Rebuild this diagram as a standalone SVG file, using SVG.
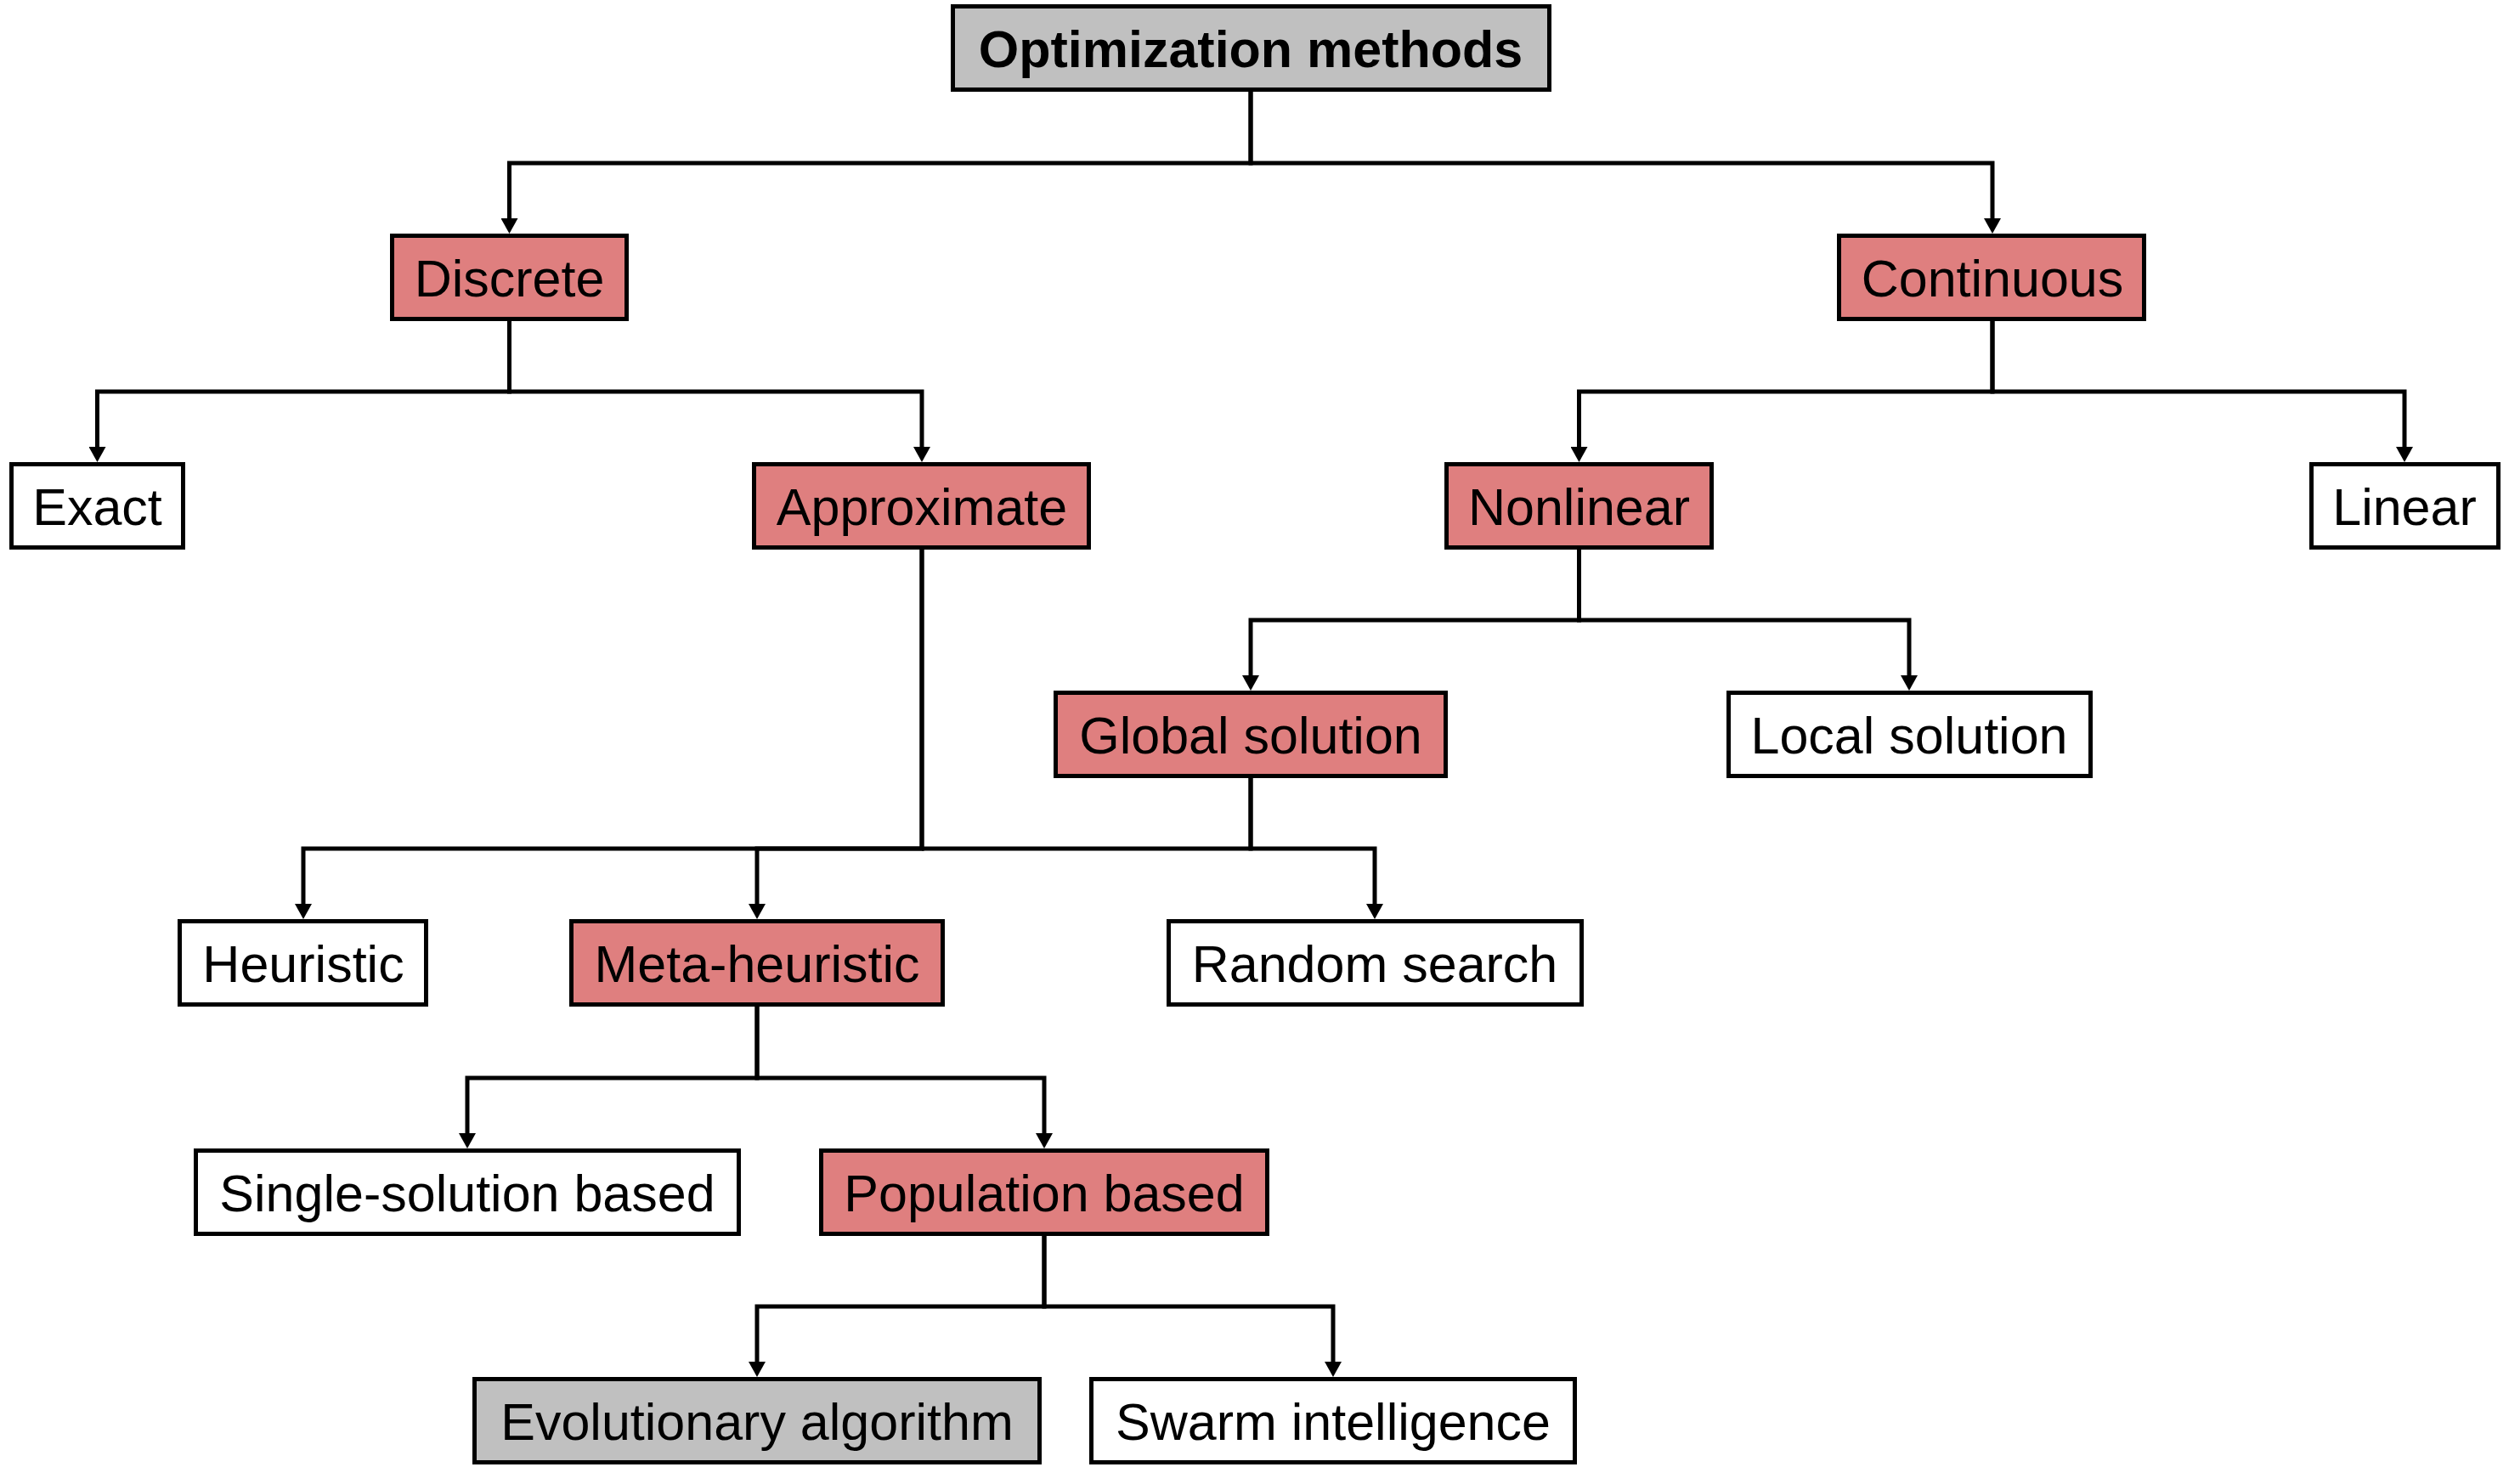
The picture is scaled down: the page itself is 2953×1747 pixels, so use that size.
<svg xmlns="http://www.w3.org/2000/svg" width="2953" height="1747" viewBox="0 0 2953 1747">
<style>
  .box rect { stroke: #000; stroke-width: 5; }
  .red rect { fill: #DF7F7F; }
  .white rect { fill: #FFFFFF; }
  .gray rect { fill: #C0C0C0; }
  .box text { font-family: "Liberation Sans", Arial, sans-serif; font-size: 61px; text-anchor: middle; fill: #000; }
  .title text { font-weight: bold; }
  #connectors path { fill: none; stroke: #000; stroke-width: 5; stroke-linejoin: miter; marker-end: url(#arr); }
</style>
<defs>
  <marker id="arr" viewBox="0 0 18 20" markerWidth="18" markerHeight="20" refX="8" refY="10" orient="auto" markerUnits="userSpaceOnUse">
    <path d="M0,0 L18,10 L0,20 Z" fill="#000"/>
  </marker>
</defs>
<rect width="2953" height="1747" fill="#fff"/>
<g id="connectors">
  <path d="M1472,108 V192 H599.5 V265"/>
  <path d="M1472,108 V192 H2345 V265"/>
  <path d="M599.5,378 V461 H114.5 V534"/>
  <path d="M599.5,378 V461 H1085 V534"/>
  <path d="M2345,378 V461 H1858.5 V534"/>
  <path d="M2345,378 V461 H2830 V534"/>
  <path d="M1858.5,647 V730 H1472 V803"/>
  <path d="M1858.5,647 V730 H2247 V803"/>
  <path d="M1085,647 V999 H357 V1072"/>
  <path d="M1085,647 V999 H891 V1072"/>
  <path d="M1472,916 V999 H1618 V1072"/>
  <path d="M1472,916 V999 H1085" style="marker-end:none"/>
  <path d="M891,1185 V1269 H550 V1342"/>
  <path d="M891,1185 V1269 H1229 V1342"/>
  <path d="M1229,1455 V1538 H891 V1611"/>
  <path d="M1229,1455 V1538 H1569 V1611"/>
</g>
<g id="n-optimization" class="box gray title"><rect x="1121.5" y="7.5" width="702" height="98"/><text x="1472" y="79">Optimization methods</text></g>
<g id="n-discrete" class="box red"><rect x="461.5" y="277.5" width="276" height="98"/><text x="599.5" y="349">Discrete</text></g>
<g id="n-continuous" class="box red"><rect x="2164.5" y="277.5" width="359" height="98"/><text x="2345" y="349">Continuous</text></g>
<g id="n-exact" class="box white"><rect x="13.5" y="546.5" width="202" height="98"/><text x="114.5" y="618">Exact</text></g>
<g id="n-approximate" class="box red"><rect x="887.5" y="546.5" width="394" height="98"/><text x="1085" y="618">Approximate</text></g>
<g id="n-nonlinear" class="box red"><rect x="1702.5" y="546.5" width="312" height="98"/><text x="1858.5" y="618">Nonlinear</text></g>
<g id="n-linear" class="box white"><rect x="2720.5" y="546.5" width="220" height="98"/><text x="2830" y="618">Linear</text></g>
<g id="n-global" class="box red"><rect x="1242.5" y="815.5" width="459" height="98"/><text x="1472" y="887">Global solution</text></g>
<g id="n-local" class="box white"><rect x="2034.5" y="815.5" width="426" height="98"/><text x="2247" y="887">Local solution</text></g>
<g id="n-heuristic" class="box white"><rect x="211.5" y="1084.5" width="290" height="98"/><text x="357" y="1156">Heuristic</text></g>
<g id="n-metaheuristic" class="box red"><rect x="672.5" y="1084.5" width="437" height="98"/><text x="891" y="1156">Meta-heuristic</text></g>
<g id="n-random" class="box white"><rect x="1375.5" y="1084.5" width="486" height="98"/><text x="1618" y="1156">Random search</text></g>
<g id="n-single" class="box white"><rect x="230.5" y="1354.5" width="639" height="98"/><text x="550" y="1426">Single-solution based</text></g>
<g id="n-population" class="box red"><rect x="966.5" y="1354.5" width="525" height="98"/><text x="1229" y="1426">Population based</text></g>
<g id="n-evolutionary" class="box gray"><rect x="558.5" y="1623.5" width="665" height="98"/><text x="891" y="1695">Evolutionary algorithm</text></g>
<g id="n-swarm" class="box white"><rect x="1284.5" y="1623.5" width="569" height="98"/><text x="1569" y="1695">Swarm intelligence</text></g>
</svg>
